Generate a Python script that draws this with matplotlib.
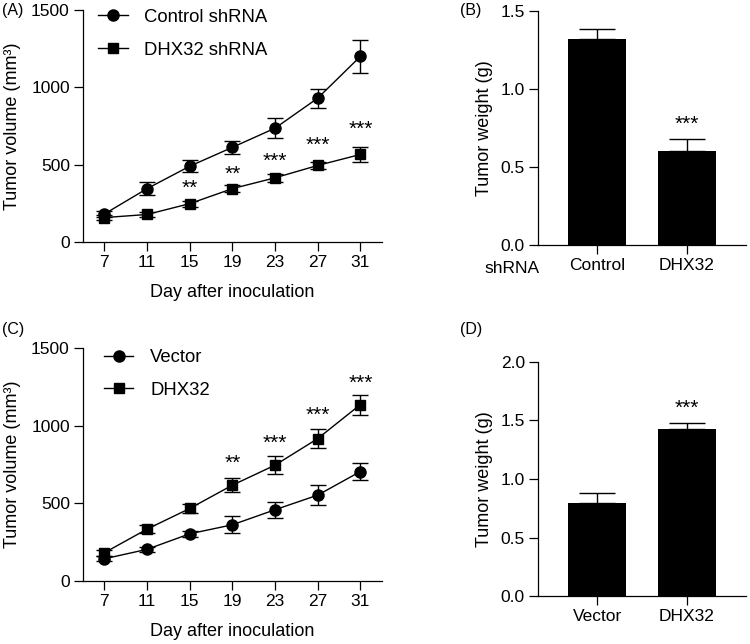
import numpy as np
import matplotlib
matplotlib.use("Agg")
import matplotlib.pyplot as plt
from matplotlib.lines import Line2D

plt.rcParams['font.family'] = ['Liberation Sans', 'DejaVu Sans']

days = [7, 11, 15, 19, 23, 27, 31]

# panel A
ctrl_sh = [181, 345, 490, 612, 736, 930, 1200]
ctrl_sh_err = [20, 40, 40, 40, 65, 62, 108]
dhx_sh = [158, 178, 248, 345, 415, 495, 566]
dhx_sh_err = [15, 18, 20, 22, 25, 25, 50]
stars_a = ['', '', '**', '**', '***', '***', '***']
stars_a_y = [0, 0, 345, 435, 520, 628, 727]

# panel B
groups_b = ['Control', 'DHX32']
weight_b = [1.32, 0.603]
weight_b_err = [0.065, 0.078]

# panel C
vector = [143, 204, 304, 362, 459, 553, 705]
vector_err = [15, 18, 20, 56, 52, 62, 55]
dhx_oe = [182, 334, 467, 617, 746, 917, 1136]
dhx_oe_err = [20, 25, 30, 46, 58, 60, 64]
stars_c = ['', '', '', '**', '***', '***', '***']
stars_c_y = [0, 0, 0, 760, 888, 1065, 1272]

# panel D
groups_d = ['Vector', 'DHX32']
weight_d = [0.793, 1.427]
weight_d_err = [0.09, 0.055]
stars_d_y = 1.6

fig = plt.figure(figsize=(7.5, 6.44), dpi=100)
axA = fig.add_axes([0.1107, 0.6242, 0.3983, 0.3603])
axB = fig.add_axes([0.7173, 0.6196, 0.2774, 0.3634])
axC = fig.add_axes([0.1107, 0.0978, 0.3983, 0.3618])
axD = fig.add_axes([0.7173, 0.0745, 0.2774, 0.3634])

lw = 0.9
tick_fs = 12.5
label_fs = 13
star_fs = 15


def style(ax):
    for s in ['top', 'right']:
        ax.spines[s].set_visible(False)
    for s in ['left', 'bottom']:
        ax.spines[s].set_linewidth(lw)
    ax.tick_params(width=lw, length=6.5, pad=3, labelsize=tick_fs, color='black')


def line_panel(ax, a, a_err, b, b_err, labels, stars, stars_y, leg_anchor):
    ax.errorbar(days, a, yerr=a_err, color='black', marker='o', ms=8,
                lw=1.0, elinewidth=1.0, capsize=6, capthick=1.0)
    ax.errorbar(days, b, yerr=b_err, color='black', marker='s', ms=7.5,
                lw=1.0, elinewidth=1.0, capsize=6, capthick=1.0)
    for d, s, y in zip(days, stars, stars_y):
        if s:
            ax.text(d, y, s, ha='center', va='center', fontsize=star_fs)
    ax.set_xlim(5, 33)
    ax.set_ylim(0, 1500)
    ax.set_xticks(days)
    ax.set_yticks([0, 500, 1000, 1500])
    ax.set_xlabel('Day after inoculation', fontsize=label_fs, labelpad=10)
    ax.set_ylabel('Tumor volume (mm³)', fontsize=label_fs, labelpad=7)
    style(ax)
    handles = [Line2D([], [], color='black', marker='o', ms=8, lw=1.0),
               Line2D([], [], color='black', marker='s', ms=7.5, lw=1.0)]
    ax.legend(handles, labels, loc='upper left', bbox_to_anchor=leg_anchor,
              frameon=False, fontsize=13.3, handlelength=1.6, handletextpad=0.9,
              labelspacing=0.85, borderpad=0, borderaxespad=0)


def bar_panel(ax, groups, vals, errs, ylim, yticks):
    x = np.arange(len(groups))
    ax.bar(x, vals, width=0.65, color='black')
    ax.errorbar(x, vals, yerr=[np.zeros(len(vals)), errs], fmt='none',
                ecolor='black', elinewidth=1.0, capsize=13, capthick=1.0)
    ax.set_xlim(-0.66, 1.66)
    ax.set_ylim(*ylim)
    ax.set_yticks(yticks)
    ax.set_yticklabels([f'{t:.1f}' for t in yticks])
    ax.set_xticks(x)
    ax.set_xticklabels(groups)
    ax.set_ylabel('Tumor weight (g)', fontsize=label_fs, labelpad=5)
    style(ax)


line_panel(axA, ctrl_sh, ctrl_sh_err, dhx_sh, dhx_sh_err,
           ['Control shRNA', 'DHX32 shRNA'], stars_a, stars_a_y, (0.05, 1.005))
line_panel(axC, vector, vector_err, dhx_oe, dhx_oe_err,
           ['Vector', 'DHX32'], stars_c, stars_c_y, (0.07, 0.995))

bar_panel(axB, groups_b, weight_b, weight_b_err, (0, 1.5), [0.0, 0.5, 1.0, 1.5])
axB.text(1, weight_b[1] + weight_b_err[1] + 0.09, '***', ha='center', va='center', fontsize=star_fs)
axB.text(-0.125, -0.1, 'shRNA', transform=axB.transAxes, ha='center', va='center',
         fontsize=tick_fs)

bar_panel(axD, groups_d, weight_d, weight_d_err, (0, 2.0), [0.0, 0.5, 1.0, 1.5, 2.0])
axD.text(1, stars_d_y, '***', ha='center', va='center', fontsize=star_fs)

for lab, x, y in [('(A)', 0.003, 0.995), ('(B)', 0.613, 0.995),
                  ('(C)', 0.003, 0.5), ('(D)', 0.613, 0.5)]:
    fig.text(x, y, lab, ha='left', va='top', fontsize=11.5)

fig.savefig('out.png', dpi=100)
